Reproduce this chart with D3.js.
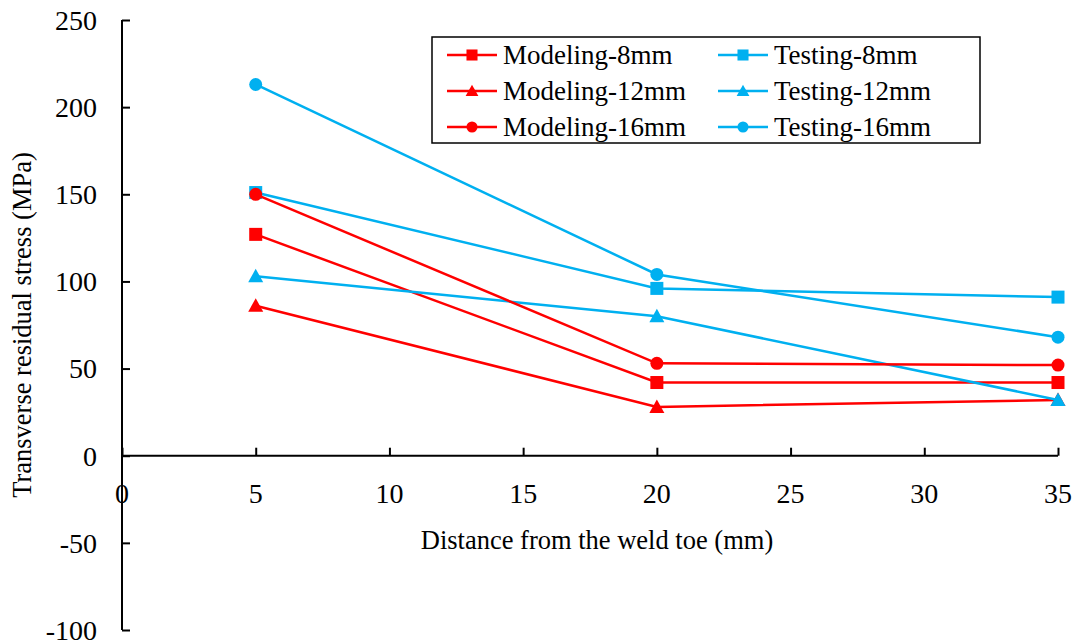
<!DOCTYPE html>
<html>
<head>
<meta charset="utf-8">
<title>Transverse residual stress</title>
<style>
  body { margin: 0; background: #fff; }
  text { font-family: "Liberation Serif", "Times New Roman", serif; fill: #000; }
</style>
</head>
<body>
<svg width="1084" height="644"></svg>
<script src="https://d3js.org/d3.v7.min.js"></script>
<script>
// data
var distances = [5, 20, 35];
var seriesNames = ["Modeling-8mm", "Testing-8mm", "Modeling-12mm", "Testing-12mm", "Modeling-16mm", "Testing-16mm"];
var modeling8 = [127, 42, 42];
var testing8 = [151, 96, 91];
var modeling12 = [86, 28, 32];
var testing12 = [103, 80, 32];
var modeling16 = [150, 53, 52];
var testing16 = [213, 104, 68];
var xTicks = [0, 5, 10, 15, 20, 25, 30, 35];
var yTicks = [-100, -50, 0, 50, 100, 150, 200, 250];

var red = "#FF0000", blue = "#00B0F0";
var series = [
  {name: seriesNames[0], values: modeling8, color: red, shape: "square"},
  {name: seriesNames[1], values: testing8, color: blue, shape: "square"},
  {name: seriesNames[2], values: modeling12, color: red, shape: "triangle"},
  {name: seriesNames[3], values: testing12, color: blue, shape: "triangle"},
  {name: seriesNames[4], values: modeling16, color: red, shape: "circle"},
  {name: seriesNames[5], values: testing16, color: blue, shape: "circle"}
];

var svg = d3.select("svg");
var plotLeft = 122, plotRight = 1058, plotTop = 20, plotBottom = 630;

var x = d3.scaleLinear().domain([0, 35]).range([plotLeft, plotRight]);
var y = d3.scaleLinear().domain([-100, 250]).range([plotBottom, plotTop]);

// y axis, ticks pointing inward
var yAxis = svg.append("g")
    .attr("transform", "translate(" + plotLeft + ",0)")
    .call(d3.axisRight(y).tickValues(yTicks).tickSize(8).tickFormat(""));
yAxis.select(".domain").remove();
yAxis.append("line")
    .attr("x1", 0).attr("x2", 0)
    .attr("y1", y(250)).attr("y2", y(-100))
    .attr("stroke", "#000").attr("stroke-width", 2);
yAxis.selectAll(".tick line").attr("stroke", "#000").attr("stroke-width", 2);

svg.append("g").selectAll("text")
    .data(yTicks)
    .enter().append("text")
      .attr("x", 97)
      .attr("y", function(d) { return y(d); })
      .attr("dy", "0.35em")
      .attr("text-anchor", "end")
      .attr("font-size", 28)
      .text(function(d) { return d; });

// x axis at zero, ticks pointing up
var xAxis = svg.append("g")
    .attr("transform", "translate(0," + y(0) + ")")
    .call(d3.axisTop(x).tickValues(xTicks).tickSize(8).tickFormat(""));
xAxis.select(".domain").remove();
xAxis.append("line")
    .attr("x1", x(0)).attr("x2", x(35))
    .attr("stroke", "#000").attr("stroke-width", 2);
xAxis.selectAll(".tick line").attr("stroke", "#000").attr("stroke-width", 2);

svg.append("g").selectAll("text")
    .data(xTicks)
    .enter().append("text")
      .attr("x", function(d) { return x(d); })
      .attr("y", y(0) + 37)
      .attr("dy", "0.35em")
      .attr("text-anchor", "middle")
      .attr("font-size", 28)
      .text(function(d) { return d; });

// axis titles
svg.append("text")
    .attr("x", 597)
    .attr("y", 540)
    .attr("dy", "0.35em")
    .attr("text-anchor", "middle")
    .attr("font-size", 26.5)
    .text("Distance from the weld toe (mm)");

svg.append("text")
    .attr("transform", "translate(22,325) rotate(-90)")
    .attr("dy", "0.35em")
    .attr("text-anchor", "middle")
    .attr("font-size", 26.5)
    .text("Transverse residual stress (MPa)");

function drawMarker(g, shape, color) {
  if (shape == "square") {
    g.append("rect").attr("x", -6.5).attr("y", -6.5).attr("width", 13).attr("height", 13).attr("fill", color);
  } else if (shape == "triangle") {
    g.append("path").attr("d", "M0,-7.5L7.5,6L-7.5,6Z").attr("fill", color);
  } else {
    g.append("circle").attr("r", 6.5).attr("fill", color);
  }
}

var line = d3.line()
    .x(function(d, i) { return x(distances[i]); })
    .y(function(d) { return y(d); });

series.forEach(function(s) {
  var g = svg.append("g");
  g.append("path")
      .datum(s.values)
      .attr("d", line)
      .attr("fill", "none")
      .attr("stroke", s.color)
      .attr("stroke-width", 2.5);
  s.values.forEach(function(v, i) {
    var m = g.append("g").attr("transform", "translate(" + x(distances[i]) + "," + y(v) + ")");
    drawMarker(m, s.shape, s.color);
  });
});

// legend
var legend = svg.append("g");
legend.append("rect")
    .attr("x", 432).attr("y", 37)
    .attr("width", 548).attr("height", 106)
    .attr("fill", "#fff")
    .attr("stroke", "#000")
    .attr("stroke-width", 1.5);

series.forEach(function(s, i) {
  var col = i % 2, row = Math.floor(i / 2);
  var lx = col == 0 ? 447 : 718;
  var ly = 55 + row * 36;
  var item = legend.append("g").attr("transform", "translate(" + lx + "," + ly + ")");
  item.append("line")
      .attr("x1", 0).attr("x2", 50)
      .attr("stroke", s.color).attr("stroke-width", 2.5);
  drawMarker(item.append("g").attr("transform", "translate(25,0) scale(0.85)"), s.shape, s.color);
  item.append("text")
      .attr("x", 56)
      .attr("dy", "0.35em")
      .attr("font-size", 27)
      .text(s.name);
});
</script>
</body>
</html>
